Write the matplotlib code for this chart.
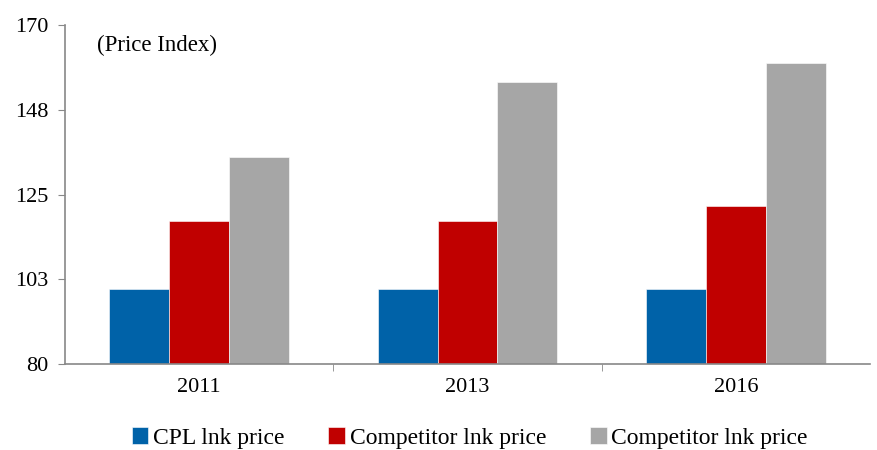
import matplotlib
matplotlib.use("Agg")
import matplotlib.pyplot as plt
import numpy as np

categories = ["2011", "2013", "2016"]
series_names = ["CPL lnk price", "Competitor lnk price", "Competitor lnk price"]
cpl = [100, 100, 100]
comp1 = [118, 118, 122]
comp2 = [135, 155, 160]
y_ticks = [80, 102.5, 125, 147.5, 170]
y_tick_labels = ["80", "103", "125", "148", "170"]

colors = ["#0062A8", "#C00000", "#A6A6A6"]
plt.rcParams['font.family'] = ['Liberation Serif', 'DejaVu Serif']

fig = plt.figure(figsize=(8.77, 4.5), dpi=100)
ax = fig.add_axes([0.074, 0.191, 0.918, 0.753])

x = np.arange(len(categories))
w = 0.223
for i, (vals, c, name) in enumerate(zip([cpl, comp1, comp2], colors, series_names)):
    ax.bar(x + (i - 1) * w, vals, width=w, color=c, label=name,
           edgecolor="white", linewidth=0.4)

ax.set_xlim(-0.5, len(categories) - 0.5)
ax.set_ylim(80, 170)
ax.set_yticks(y_ticks)
ax.set_yticklabels(y_tick_labels, fontsize=16)
ax.set_xticks(x)
ax.set_xticklabels(categories, fontsize=16)
ax.set_xticks([0.5, 1.5], minor=True)
ax.tick_params(axis='x', which='major', length=0, pad=10)
ax.tick_params(axis='x', which='minor', length=5, color="#888888", direction='out')
ax.tick_params(axis='y', length=5, color="#888888", direction='out', pad=7)

for s in ["top", "right"]:
    ax.spines[s].set_visible(False)
for s in ["left", "bottom"]:
    ax.spines[s].set_color("#888888")
    ax.spines[s].set_linewidth(1.2)

ax.text(0.04, 0.94, "(Price Index)", transform=ax.transAxes, fontsize=16.5,
        va="center", ha="left")

ax.legend(loc="center", bbox_to_anchor=(0.503, -0.218), ncol=3, frameon=False,
          fontsize=17, handlelength=0.7, handleheight=0.7, handletextpad=0.2,
          columnspacing=1.86)

fig.savefig("out.png", dpi=100)
